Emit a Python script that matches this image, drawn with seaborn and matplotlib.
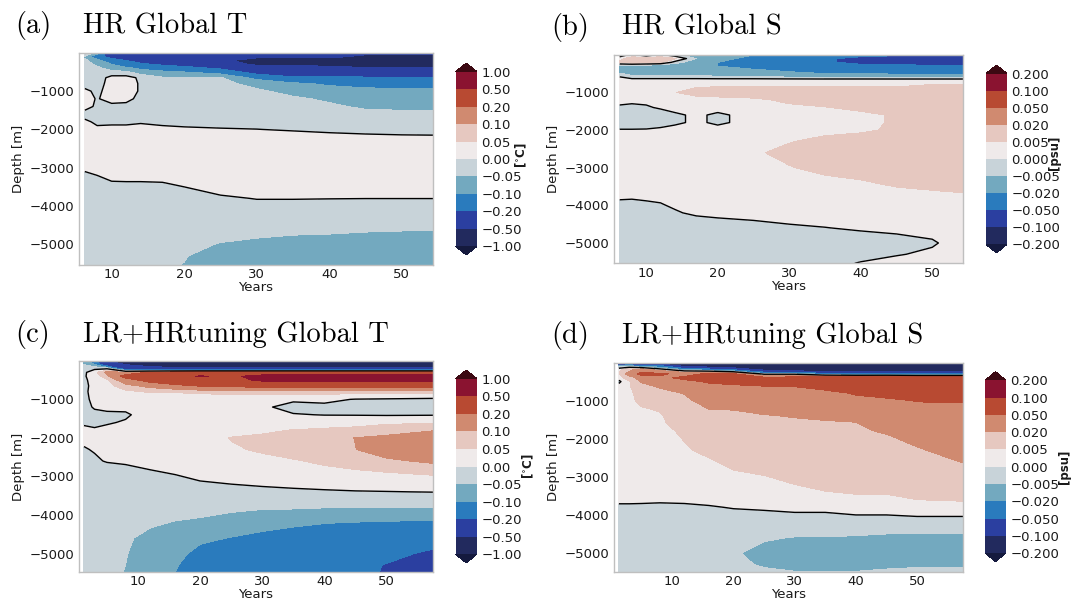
import numpy as np
import matplotlib
matplotlib.use("Agg")
import matplotlib.pyplot as plt
import seaborn as sns

# ---------------- data ----------------
depths = [5, 100, 200, 300, 400, 500, 650, 800, 1000, 1200, 1400, 1600, 1800,
          2000, 2300, 2600, 3000, 3400, 3800, 4200, 4600, 5000, 5300, 5540]
years_hr = [6.3, 8, 10, 12, 14, 17, 20, 25, 30, 35, 40, 45, 50, 54.3]
years_lr = [1.3, 3, 5, 8, 12, 16, 20, 25, 30, 35, 40, 45, 50, 57.5]

t_levels = [-1.0, -0.5, -0.2, -0.1, -0.05, 0.0, 0.05, 0.1, 0.2, 0.5, 1.0]
s_levels = [-0.2, -0.1, -0.05, -0.02, -0.005, 0.0, 0.005, 0.02, 0.05, 0.1, 0.2]
t_ticklabels = ["-1.00", "-0.50", "-0.20", "-0.10", "-0.05", "0.00", "0.05", "0.10", "0.20", "0.50", "1.00"]
s_ticklabels = ["-0.200", "-0.100", "-0.050", "-0.020", "-0.005", "0.000", "0.005", "0.020", "0.050", "0.100", "0.200"]

titles = ["HR Global T", "HR Global S", "LR+HRtuning Global T", "LR+HRtuning Global S"]
letters = ["(a)", "(b)", "(c)", "(d)"]

# (a) HR temperature anomaly, rows = depths, columns = years_hr
t_hr = [
    [0.01, -0.08, -0.3, -0.3, -0.3, -0.3, -0.35, -0.4, -0.4, -0.4, -0.45, -0.45, -0.45, -0.45],
    [-0.06, -0.15, -0.25, -0.3, -0.3, -0.35, -0.35, -0.4, -0.45, -0.45, -0.45, -0.55, -0.6, -0.6],
    [-0.04, -0.08, -0.15, -0.2, -0.25, -0.3, -0.35, -0.45, -0.6, -0.6, -0.6, -0.65, -0.7, -0.7],
    [-0.03, -0.06, -0.1, -0.14, -0.18, -0.22, -0.25, -0.35, -0.55, -0.55, -0.55, -0.6, -0.65, -0.65],
    [-0.03, -0.04, -0.07, -0.09, -0.11, -0.13, -0.16, -0.22, -0.35, -0.4, -0.45, -0.48, -0.48, -0.48],
    [-0.03, -0.03, -0.04, -0.04, -0.08, -0.09, -0.1, -0.13, -0.25, -0.3, -0.3, -0.35, -0.35, -0.35],
    [-0.02, -0.03, 0.02, 0.02, -0.01, -0.045, -0.045, -0.045, -0.12, -0.18, -0.18, -0.18, -0.18, -0.18],
    [-0.02, -0.02, 0.02, 0.02, -0.005, -0.04, -0.04, -0.042, -0.06, -0.09, -0.11, -0.12, -0.12, -0.12],
    [0.01, -0.01, 0.02, 0.02, -0.005, -0.035, -0.038, -0.04, -0.045, -0.06, -0.075, -0.085, -0.09, -0.09],
    [0.015, -0.003, 0.015, 0.01, -0.01, -0.03, -0.035, -0.038, -0.04, -0.045, -0.055, -0.065, -0.065, -0.065],
    [0.01, -0.005, -0.01, -0.01, -0.015, -0.025, -0.03, -0.035, -0.035, -0.04, -0.045, -0.055, -0.055, -0.055],
    [-0.01, -0.015, -0.015, -0.015, -0.015, -0.02, -0.025, -0.03, -0.03, -0.035, -0.04, -0.042, -0.045, -0.045],
    [0.005, -0.005, -0.005, -0.005, -0.003, -0.005, -0.008, -0.01, -0.012, -0.015, -0.018, -0.02, -0.02, -0.02],
    [0.02, 0.005, 0.007, 0.007, 0.01, 0.005, 0.004, 0.002, 0.0005, -0.003, -0.006, -0.008, -0.009, -0.01],
    [0.03, 0.03, 0.03, 0.03, 0.03, 0.03, 0.03, 0.03, 0.025, 0.02, 0.015, 0.012, 0.01, 0.01],
    [0.03, 0.03, 0.03, 0.03, 0.03, 0.03, 0.03, 0.03, 0.03, 0.03, 0.03, 0.03, 0.03, 0.03],
    [0.005, 0.01, 0.015, 0.02, 0.02, 0.02, 0.025, 0.03, 0.03, 0.03, 0.03, 0.03, 0.03, 0.03],
    [-0.015, -0.01, -0.002, -0.002, -0.002, -0.001, 0.005, 0.015, 0.02, 0.02, 0.02, 0.02, 0.02, 0.02],
    [-0.03, -0.03, -0.025, -0.02, -0.02, -0.02, -0.015, -0.004, 0.001, 0.001, 0.0005, 0.0002, 0.0002, 0.0002],
    [-0.03, -0.03, -0.03, -0.03, -0.03, -0.03, -0.03, -0.025, -0.015, -0.015, -0.015, -0.015, -0.015, -0.015],
    [-0.03, -0.03, -0.03, -0.03, -0.03, -0.03, -0.035, -0.035, -0.035, -0.04, -0.04, -0.045, -0.047, -0.047],
    [-0.03, -0.03, -0.03, -0.03, -0.03, -0.035, -0.04, -0.052, -0.06, -0.065, -0.07, -0.07, -0.07, -0.07],
    [-0.03, -0.03, -0.03, -0.03, -0.035, -0.04, -0.048, -0.065, -0.07, -0.075, -0.075, -0.075, -0.075, -0.075],
    [-0.03, -0.03, -0.03, -0.035, -0.04, -0.045, -0.051, -0.07, -0.075, -0.08, -0.08, -0.08, -0.08, -0.08],
]

# (b) HR salinity anomaly, rows = depths, columns = years_hr
s_hr = [
    [-0.003, 0.002, -0.003, 0.002, -0.003, -0.01, -0.01, -0.02, -0.025, -0.03, -0.04, -0.045, -0.055, -0.07],
    [0.003, 0.008, 0.008, 0.008, 0.006, -0.005, -0.015, -0.025, -0.04, -0.045, -0.06, -0.07, -0.075, -0.08],
    [0.006, 0.008, 0.008, 0.006, -0.002, -0.01, -0.02, -0.03, -0.04, -0.045, -0.06, -0.065, -0.07, -0.075],
    [-0.008, -0.008, -0.01, -0.01, -0.012, -0.015, -0.02, -0.03, -0.035, -0.035, -0.04, -0.04, -0.045, -0.045],
    [-0.01, -0.01, -0.012, -0.012, -0.012, -0.012, -0.015, -0.018, -0.025, -0.03, -0.03, -0.03, -0.03, -0.03],
    [-0.004, -0.008, -0.008, -0.008, -0.008, -0.008, -0.01, -0.01, -0.015, -0.02, -0.02, -0.022, -0.022, -0.022],
    [0.003, 0.001, 0.001, 0.001, 0.001, 0.001, 0.001, 0.001, 0.001, 0.001, 0.001, 0.001, 0.001, 0.001],
    [0.002, 0.002, 0.002, 0.002, 0.003, 0.004, 0.004, 0.004, 0.004, 0.004, 0.004, 0.004, 0.0052, 0.0055],
    [0.001, 0.001, 0.002, 0.002, 0.0048, 0.007, 0.008, 0.008, 0.008, 0.008, 0.008, 0.008, 0.008, 0.008],
    [0.001, 0.001, 0.001, 0.002, 0.002, 0.003, 0.003, 0.004, 0.006, 0.007, 0.008, 0.008, 0.008, 0.008],
    [-0.0005, -0.001, -0.0005, 0.0005, 0.002, 0.002, 0.002, 0.003, 0.004, 0.0048, 0.006, 0.008, 0.008, 0.008],
    [-0.004, -0.004, -0.003, -0.002, -0.001, 0.001, -0.001, 0.002, 0.003, 0.003, 0.004, 0.0055, 0.008, 0.008],
    [-0.004, -0.004, -0.003, -0.002, -0.001, 0.001, -0.001, 0.002, 0.003, 0.003, 0.004, 0.0055, 0.008, 0.008],
    [0.0005, 0.0005, 0.0005, 0.001, 0.002, 0.002, 0.002, 0.003, 0.003, 0.004, 0.0045, 0.0055, 0.008, 0.008],
    [0.001, 0.001, 0.001, 0.001, 0.002, 0.002, 0.002, 0.003, 0.0048, 0.006, 0.0065, 0.007, 0.008, 0.008],
    [0.001, 0.001, 0.001, 0.001, 0.002, 0.002, 0.003, 0.0045, 0.006, 0.007, 0.007, 0.007, 0.008, 0.008],
    [0.001, 0.001, 0.001, 0.001, 0.002, 0.002, 0.003, 0.004, 0.0048, 0.006, 0.007, 0.007, 0.008, 0.008],
    [0.0005, 0.0005, 0.001, 0.001, 0.001, 0.002, 0.002, 0.003, 0.003, 0.004, 0.0045, 0.0058, 0.0065, 0.007],
    [0.0003, 0.0002, 0.0005, 0.001, 0.001, 0.001, 0.001, 0.002, 0.002, 0.002, 0.003, 0.003, 0.0035, 0.004],
    [-0.002, -0.002, -0.002, -0.002, -0.0003, 0.0005, 0.001, 0.001, 0.0015, 0.002, 0.002, 0.002, 0.002, 0.003],
    [-0.003, -0.003, -0.003, -0.003, -0.002, -0.002, -0.002, -0.001, -0.0005, -0.0001, 0.0005, 0.001, 0.0015, 0.003],
    [-0.003, -0.003, -0.003, -0.003, -0.003, -0.003, -0.003, -0.003, -0.003, -0.0025, -0.002, -0.0015, -0.0005, 0.002],
    [-0.003, -0.003, -0.003, -0.003, -0.003, -0.003, -0.003, -0.003, -0.003, -0.002, -0.001, -0.0003, 0.0008, 0.003],
    [-0.003, -0.003, -0.003, -0.003, -0.003, -0.003, -0.003, -0.002, -0.0015, -0.001, 0.0002, 0.0015, 0.002, 0.003],
]

# (c) LR+HRtuning temperature anomaly, rows = years_lr, columns = depths
t_lr_by_year = [
    [-0.08, -0.05, -0.02, -0.01, -0.005, -0.005, -0.004, -0.003, -0.004, -0.006, -0.006, -0.002, 0.003, 0.003, -0.001, -0.008, -0.015, -0.02, -0.02, -0.02, -0.025, -0.025, -0.025, -0.025],
    [-0.15, -0.1, -0.01, 0.03, 0.02, 0.01, 0.005, 0.005, 0.004, 0.002, -0.005, -0.004, 0.002, 0.005, 0.001, -0.002, -0.01, -0.015, -0.02, -0.025, -0.03, -0.03, -0.03, -0.03],
    [-0.5, -0.3, -0.01, 0.12, 0.08, 0.04, 0.03, 0.02, 0.015, 0.005, -0.004, -0.002, 0.005, 0.01, 0.005, 0.001, -0.01, -0.02, -0.025, -0.03, -0.035, -0.04, -0.04, -0.04],
    [-0.6, -0.5, -0.3, 0.12, 0.25, 0.15, 0.08, 0.04, 0.02, 0.005, -0.003, 0.002, 0.01, 0.012, 0.01, 0.003, -0.01, -0.02, -0.03, -0.04, -0.045, -0.048, -0.05, -0.052],
    [-0.65, -0.6, -0.4, 0.22, 0.3, 0.25, 0.12, 0.055, 0.02, 0.01, 0.01, 0.012, 0.015, 0.015, 0.015, 0.008, -0.006, -0.02, -0.03, -0.045, -0.06, -0.07, -0.075, -0.08],
    [-0.7, -0.65, -0.45, 0.28, 0.4, 0.33, 0.16, 0.055, 0.02, 0.015, 0.015, 0.015, 0.02, 0.02, 0.02, 0.015, -0.002, -0.015, -0.035, -0.052, -0.07, -0.085, -0.097, -0.101],
    [-0.7, -0.7, -0.45, 0.3, 0.52, 0.4, 0.21, 0.06, 0.02, 0.015, 0.012, 0.015, 0.02, 0.025, 0.025, 0.02, 0.005, -0.012, -0.04, -0.055, -0.09, -0.115, -0.12, -0.12],
    [-0.7, -0.7, -0.45, 0.3, 0.45, 0.4, 0.22, 0.07, 0.02, 0.01, 0.01, 0.02, 0.03, 0.052, 0.045, 0.035, 0.01, -0.01, -0.04, -0.07, -0.102, -0.12, -0.125, -0.125],
    [-0.7, -0.7, -0.45, 0.3, 0.6, 0.55, 0.25, 0.07, 0.015, 0.005, 0.01, 0.02, 0.04, 0.06, 0.055, 0.04, 0.015, -0.008, -0.045, -0.08, -0.115, -0.13, -0.14, -0.14],
    [-0.7, -0.7, -0.45, 0.3, 0.6, 0.55, 0.25, 0.07, 0.005, -0.01, 0.002, 0.02, 0.052, 0.07, 0.075, 0.045, 0.02, -0.006, -0.045, -0.09, -0.125, -0.14, -0.15, -0.15],
    [-0.7, -0.7, -0.45, 0.3, 0.6, 0.55, 0.25, 0.07, 0.01, -0.01, -0.001, 0.02, 0.06, 0.08, 0.085, 0.06, 0.025, -0.004, -0.048, -0.098, -0.13, -0.15, -0.16, -0.16],
    [-0.7, -0.7, -0.45, 0.3, 0.6, 0.55, 0.25, 0.07, -0.002, -0.02, -0.002, 0.03, 0.065, 0.101, 0.099, 0.075, 0.03, -0.002, -0.048, -0.102, -0.135, -0.16, -0.17, -0.17],
    [-0.7, -0.7, -0.45, 0.3, 0.6, 0.55, 0.25, 0.07, -0.005, -0.02, -0.004, 0.04, 0.08, 0.11, 0.13, 0.09, 0.035, -0.001, -0.048, -0.105, -0.14, -0.17, -0.205, -0.21],
    [-0.7, -0.7, -0.45, 0.3, 0.6, 0.55, 0.25, 0.07, -0.01, -0.02, -0.003, 0.045, 0.095, 0.15, 0.15, 0.11, 0.045, 0.001, -0.048, -0.11, -0.15, -0.22, -0.25, -0.25],
]

# (d) LR+HRtuning salinity anomaly, rows = years_lr, columns = depths
s_lr_by_year = [
    [-0.15, -0.003, 0.003, 0.004, 0.002, -0.001, 0.002, 0.003, 0.003, 0.003, 0.003, 0.003, 0.003, 0.003, 0.003, 0.003, 0.002, 0.001, -0.0003, -0.002, -0.002, -0.002, -0.002, -0.002],
    [-0.12, -0.005, 0.015, 0.03, 0.01, 0.004, 0.004, 0.003, 0.003, 0.0025, 0.0025, 0.0025, 0.0025, 0.0025, 0.0025, 0.0025, 0.002, 0.001, -0.0003, -0.0015, -0.002, -0.002, -0.002, -0.002],
    [-0.12, -0.02, 0.04, 0.06, 0.03, 0.022, 0.012, 0.009, 0.007, 0.0045, 0.004, 0.0035, 0.003, 0.003, 0.0028, 0.0026, 0.0024, 0.0012, -0.0004, -0.0015, -0.002, -0.002, -0.002, -0.002],
    [-0.15, -0.03, 0.015, 0.055, 0.045, 0.03, 0.021, 0.015, 0.012, 0.006, 0.004, 0.0035, 0.0033, 0.0032, 0.003, 0.0028, 0.0025, 0.0012, -0.0005, -0.0012, -0.0018, -0.002, -0.002, -0.0015],
    [-0.16, -0.1, -0.01, 0.04, 0.055, 0.045, 0.035, 0.021, 0.016, 0.013, 0.011, 0.009, 0.006, 0.0052, 0.0045, 0.004, 0.003, 0.0015, -0.0005, -0.0015, -0.0025, -0.003, -0.0025, -0.002],
    [-0.17, -0.12, -0.02, 0.055, 0.058, 0.052, 0.045, 0.038, 0.028, 0.0205, 0.016, 0.013, 0.011, 0.009, 0.006, 0.0045, 0.0035, 0.0022, -0.0003, -0.002, -0.003, -0.0035, -0.003, -0.0025],
    [-0.17, -0.14, -0.04, 0.055, 0.058, 0.056, 0.045, 0.04, 0.03, 0.021, 0.017, 0.015, 0.013, 0.011, 0.009, 0.006, 0.0042, 0.0028, 0.0002, -0.002, -0.0035, -0.0045, -0.004, -0.003],
    [-0.18, -0.16, -0.1, -0.005, 0.06, 0.058, 0.048, 0.044, 0.033, 0.025, 0.019, 0.016, 0.014, 0.012, 0.01, 0.007, 0.0048, 0.0035, 0.0005, -0.002, -0.0045, -0.0065, -0.0055, -0.004],
    [-0.18, -0.17, -0.12, -0.005, 0.065, 0.06, 0.049, 0.042, 0.035, 0.027, 0.021, 0.017, 0.015, 0.013, 0.011, 0.009, 0.006, 0.004, 0.001, -0.002, -0.0052, -0.0075, -0.0065, -0.0045],
    [-0.18, -0.17, -0.14, -0.03, 0.07, 0.065, 0.055, 0.045, 0.04, 0.03, 0.023, 0.018, 0.016, 0.014, 0.012, 0.011, 0.008, 0.0048, 0.001, -0.002, -0.0052, -0.0075, -0.0065, -0.0045],
    [-0.18, -0.17, -0.14, -0.04, 0.075, 0.07, 0.065, 0.052, 0.045, 0.035, 0.025, 0.019, 0.017, 0.015, 0.013, 0.012, 0.009, 0.0055, 0.002, -0.002, -0.0055, -0.008, -0.0065, -0.0045],
    [-0.18, -0.17, -0.14, -0.04, 0.08, 0.075, 0.07, 0.06, 0.045, 0.04, 0.035, 0.03, 0.022, 0.017, 0.015, 0.013, 0.01, 0.0055, 0.002, -0.002, -0.006, -0.008, -0.006, -0.004],
    [-0.18, -0.17, -0.14, -0.05, 0.08, 0.08, 0.075, 0.065, 0.051, 0.045, 0.04, 0.035, 0.03, 0.025, 0.018, 0.015, 0.012, 0.007, 0.003, -0.002, -0.006, -0.008, -0.0055, -0.004],
    [-0.18, -0.17, -0.14, -0.05, 0.08, 0.08, 0.075, 0.07, 0.052, 0.045, 0.042, 0.04, 0.038, 0.035, 0.028, 0.0205, 0.015, 0.008, 0.003, -0.002, -0.006, -0.008, -0.0055, -0.004],
]

# colours of the 10 bands plus under / over (balance-like diverging map)
band_colors = ["#151a3e", "#222a5e", "#2b3fa0", "#2a7bbd", "#73a9bf", "#c8d3d9",
               "#efeaea", "#e6c8c0", "#d08a70", "#b84a32", "#8a1330", "#3c0912"]

# ---------------- styling ----------------
sns.set_style("whitegrid", {"axes.grid": False, "axes.edgecolor": "0.8",
                            "xtick.bottom": False, "ytick.left": False})
plt.rcParams["font.family"] = ["DejaVu Sans"]
plt.rcParams["font.size"] = 9.5
plt.rcParams["text.color"] = "0.1"
plt.rcParams["axes.labelcolor"] = "0.1"
plt.rcParams["xtick.color"] = "0.1"
plt.rcParams["ytick.color"] = "0.1"

W, H = 1088.0, 600.0
fig = plt.figure(figsize=(W / 100, H / 100), dpi=100)


def px_rect(left, top, right, bottom):
    return [left / W, 1 - bottom / H, (right - left) / W, (bottom - top) / H]


panels = [
    dict(ax=px_rect(79, 53, 433, 265), cax=px_rect(455.5, 63, 477, 255),
         years=years_hr, field=np.array(t_hr), levels=t_levels, ticklabels=t_ticklabels,
         xlim=(5.5, 54.3), ylim=(-5540, -5), unit=r"[$^{\circ}$C]", unit_xy=(521.5, 155),
         title_xy=(15, 83, 33.5)),
    dict(ax=px_rect(614, 55, 963, 263.3), cax=px_rect(986, 65, 1007, 253),
         years=years_hr, field=np.array(s_hr), levels=s_levels, ticklabels=s_ticklabels,
         xlim=(5.5, 54.3), ylim=(-5540, -5), unit="[psu]", unit_xy=(1054, 153),
         title_xy=(551.7, 621.7, 34.5)),
    dict(ax=px_rect(79, 361, 433, 572), cax=px_rect(455.5, 370, 477, 563),
         years=years_lr, field=np.array(t_lr_by_year).T, levels=t_levels, ticklabels=t_ticklabels,
         xlim=(0.5, 57.5), ylim=(-5480, -5), unit=r"[$^{\circ}$C]", unit_xy=(528, 466),
         title_xy=(15, 82.7, 341.7)),
    dict(ax=px_rect(614, 362.7, 963, 571.7), cax=px_rect(985, 371.7, 1006, 561.7),
         years=years_lr, field=np.array(s_lr_by_year).T, levels=s_levels, ticklabels=s_ticklabels,
         xlim=(0.5, 57.5), ylim=(-5490, -5), unit="[psu]", unit_xy=(1065, 467),
         title_xy=(551.7, 621.7, 342.7)),
]

neg_depth = -np.asarray(depths, dtype=float)

for i, p in enumerate(panels):
    ax = fig.add_axes(p["ax"])
    cax = fig.add_axes(p["cax"])
    x = np.asarray(p["years"], dtype=float)
    Z = p["field"]
    cs = ax.contourf(x, neg_depth, Z, levels=p["levels"], colors=band_colors, extend="both")
    ax.contour(x, neg_depth, Z, levels=[0.0], colors="k", linewidths=1.0)
    ax.set_xlim(*p["xlim"])
    ax.set_ylim(*p["ylim"])
    ax.set_xticks([10, 20, 30, 40, 50])
    ax.set_yticks([-1000, -2000, -3000, -4000, -5000])
    ax.set_xlabel("Years", fontsize=9.5, labelpad=0)
    ax.set_ylabel("Depth [m]", fontsize=9.5, labelpad=3)
    ax.tick_params(axis="x", labelsize=9.5, length=0, pad=2.5)
    ax.tick_params(axis="y", labelsize=9.5, length=0, pad=3.5)
    for sp in ax.spines.values():
        sp.set_edgecolor("0.75")
        sp.set_linewidth(1.0)

    cb = fig.colorbar(cs, cax=cax)
    cb.set_ticks(p["levels"])
    cb.set_ticklabels([t.replace("-", "\u2212") for t in p["ticklabels"]])
    cb.ax.tick_params(labelsize=9.5, length=0, pad=3)
    cb.outline.set_linewidth(0)

    ux, uy = p["unit_xy"]
    fig.text(ux / W, 1 - uy / H, p["unit"], rotation=90, ha="center", va="center",
             fontsize=8.5, fontweight="bold")

    lx, tx, by = p["title_xy"]
    fig.text(lx / W, 1 - by / H, letters[i], family="cmr10", fontsize=20.5,
             ha="left", va="baseline", color="black")
    fig.text(tx / W, 1 - by / H, titles[i], family="cmr10", fontsize=20.5,
             ha="left", va="baseline", color="black")

fig.savefig("out.png", dpi=100)
